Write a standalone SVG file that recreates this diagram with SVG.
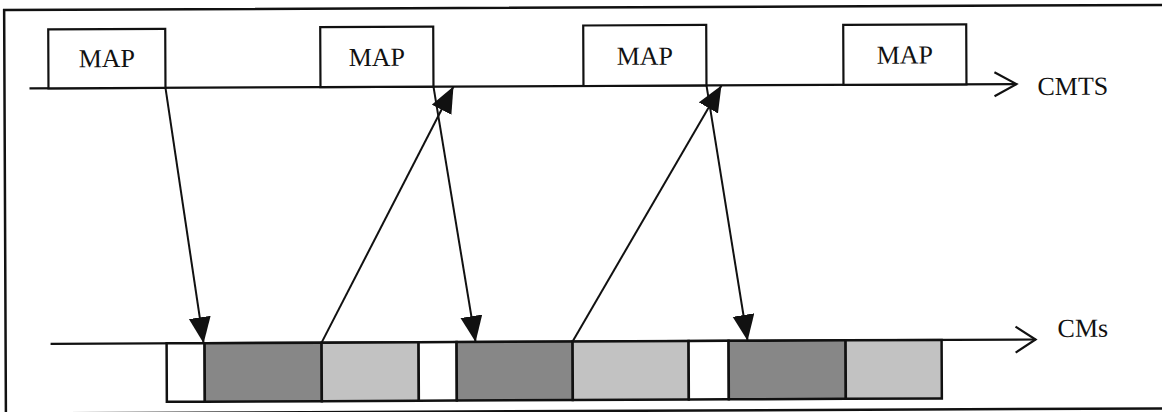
<svg xmlns="http://www.w3.org/2000/svg" width="1162" height="412" viewBox="0 0 1162 412">
  <style>
    .frame { fill: none; stroke: #111; stroke-width: 2.5; }
    .box { fill: #fff; stroke: #111; stroke-width: 2.2; }
    .axis { fill: none; stroke: #111; stroke-width: 2.2; }
    .label { font-family: "Liberation Serif", "Times New Roman", serif; font-size: 26px; fill: #111; }
    .slot { stroke: #111; stroke-width: 2.5; }
    .free { fill: #fff; }
    .data { fill: #878787; }
    .req { fill: #c2c2c2; }
    .msg { fill: none; stroke: #111; stroke-width: 2; marker-end: url(#head); }
  </style>
  <defs>
    <marker id="head" markerUnits="userSpaceOnUse" markerWidth="28" markerHeight="24" refX="26" refY="11" orient="auto">
      <path d="M0,0 L26,11 L0,22 Z" fill="#111"/>
    </marker>
  </defs>
  <rect width="1162" height="412" fill="#fff"/>
  <g transform="rotate(-0.25 581 206)">
    <rect class="frame" x="5" y="7.5" width="1162" height="403.5"/>

    <!-- CMTS time axis -->
    <g id="cmts-axis">
      <line class="axis" x1="30" y1="86" x2="1017" y2="86"/>
      <polyline class="axis" points="995,74 1017,86 995,98"/>
      <text class="label" x="1038" y="97">CMTS</text>
    </g>

    <!-- MAP messages sent by the CMTS -->
    <g id="map1">
      <rect class="box" x="49" y="27" width="117" height="59"/>
      <text class="label" x="107.5" y="65" text-anchor="middle">MAP</text>
    </g>
    <g id="map2">
      <rect class="box" x="321" y="26" width="113" height="60"/>
      <text class="label" x="377.5" y="65" text-anchor="middle">MAP</text>
    </g>
    <g id="map3">
      <rect class="box" x="584" y="25.5" width="123" height="60.5"/>
      <text class="label" x="645.5" y="65" text-anchor="middle">MAP</text>
    </g>
    <g id="map4">
      <rect class="box" x="844" y="26" width="123" height="60"/>
      <text class="label" x="905.5" y="65" text-anchor="middle">MAP</text>
    </g>

    <!-- CM time axis -->
    <g id="cms-axis">
      <line class="axis" x1="50" y1="341.5" x2="1035" y2="341.5"/>
      <polyline class="axis" points="1015,328.5 1035,341.5 1015,354.5"/>
      <text class="label" x="1057" y="339">CMs</text>
    </g>

    <!-- upstream slots -->
    <g id="slots">
      <rect class="slot free" x="166" y="341.5" width="38" height="58.5"/>
      <rect class="slot data" x="204" y="341.5" width="117" height="58.5"/>
      <rect class="slot req" x="321" y="341.5" width="97" height="58.5"/>
      <rect class="slot free" x="418" y="341.5" width="38" height="58.5"/>
      <rect class="slot data" x="456" y="341.5" width="116" height="58.5"/>
      <rect class="slot req" x="572" y="341.5" width="116" height="58.5"/>
      <rect class="slot free" x="688" y="341.5" width="40" height="58.5"/>
      <rect class="slot data" x="728" y="341.5" width="117" height="58.5"/>
      <rect class="slot req" x="845" y="341.5" width="96" height="58.5"/>
    </g>

    <!-- messages between CMTS and CMs -->
    <g id="connectors">
      <line class="msg" x1="166" y1="86" x2="203" y2="341.5"/>
      <line class="msg" x1="321" y1="341.5" x2="454" y2="86"/>
      <line class="msg" x1="434" y1="86" x2="475" y2="341.5"/>
      <line class="msg" x1="572" y1="341.5" x2="722" y2="86"/>
      <line class="msg" x1="707" y1="86" x2="747" y2="341.5"/>
    </g>
  </g>
</svg>
